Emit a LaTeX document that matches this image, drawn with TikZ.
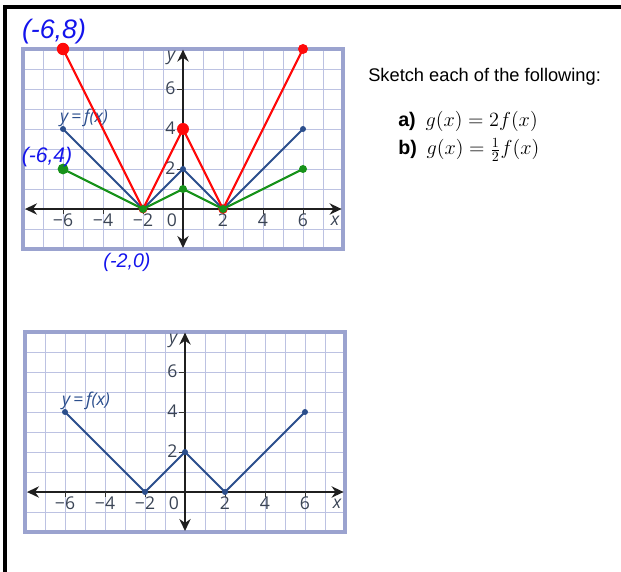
\documentclass[tikz,border=0pt]{standalone}
\usepackage{fontspec}
\setmainfont{Liberation Sans}
\newfontfamily\graphfont{Open Sans}
\usetikzlibrary{arrows.meta, positioning}
\definecolor{cgrid}{HTML}{BCC2E2}
\definecolor{cframe}{HTML}{9BA3CF}
\definecolor{cfx}{HTML}{2B4E8C}
\definecolor{cred}{HTML}{FF0A0A}
\definecolor{cgreen}{HTML}{17921A}
\definecolor{cink}{HTML}{1414EC}
\definecolor{clabel}{HTML}{3A4455}
\tikzset{
  every picture/.style={x=0.5cm, y=0.5cm},
  sheet/.style={draw=black, line width=2.2pt},
  gridline/.style={draw=cgrid, line width=0.6pt},
  frame/.style={draw=cframe, line width=2.2pt},
  axis/.style={{Stealth[length=8.5pt, width=8pt]}-{Stealth[length=8.5pt, width=8pt]}, draw=black!88, line width=2pt},
  tickmark/.style={draw=black!80, line width=0.7pt},
  ticklabel/.style={font=\graphfont\fontsize{12.5}{12.5}\selectfont, text=clabel, inner sep=1pt},
  fline/.style={draw=cfx, line width=1.4pt, line join=round},
  fdot/.style={circle, fill=cfx, inner sep=0pt, minimum size=0.15cm},
  redline/.style={draw=cred, line width=1.5pt, line join=round},
  reddot/.style={circle, fill=cred, inner sep=0pt, minimum size=#1},
  reddot/.default=0.24cm,
  greenline/.style={draw=cgreen, line width=1.5pt, line join=round},
  greendot/.style={circle, fill=cgreen, inner sep=0pt, minimum size=#1},
  greendot/.default=0.2cm,
  ink/.style={text=cink, font=\itshape\fontsize{#1}{#1}\selectfont, inner sep=0pt},
  task/.style={font=\fontsize{13}{15}\selectfont, inner sep=0pt},
  part/.style={font=\fontsize{14}{16}\selectfont, inner sep=0pt},
}

\begin{document}
\begin{tikzpicture}
  \useasboundingbox (-9.15,-18.15) rectangle (21.9,10.45);
  % sheet border
  \draw[sheet] (-8.9,-18.6) -- (-8.9,10.1) -- (22.3,10.1);
  % both graphs: grid, axes, ticks and y = f(x)
  \foreach \gn/\gx/\gy in {top/0/0, bot/0.1/-14.15} {
    \begin{scope}[shift={(\gx,\gy)}]
      \draw[gridline, step=0.5cm] (-8,-2) grid (8,8);
      \draw[frame] (-8,-2) rectangle (8,8);
      \coordinate (\gn-xl) at (-7.9,0);
      \coordinate (\gn-xr) at (7.93,0);
      \coordinate (\gn-yb) at (0,-1.95);
      \coordinate (\gn-yt) at (0,7.97);
      \draw[axis] (\gn-xl) -- (\gn-xr);
      \draw[axis] (\gn-yb) -- (\gn-yt);
      \foreach \v/\t in {-6/−6, -4/−4, -2/−2, 2/2, 4/4, 6/6} {
        \draw[tickmark] (\v,0) -- (\v,-0.25);
        \node[ticklabel, anchor=base] (\gn-x\v) at (\v,-0.9) {\t};
      }
      \node[ticklabel, anchor=base] (\gn-x0) at (-0.55,-0.9) {0};
      \foreach \v in {2,4,6} {
        \draw[tickmark] (0,\v) -- (-0.3,\v);
        \node[ticklabel, anchor=base east] (\gn-y\v) at (-0.3,\v-0.3) {\v};
      }
      \node[ticklabel, anchor=base east] (\gn-ylab) at (-0.3,7.4) {\itshape y};
      \node[ticklabel, anchor=base] (\gn-xlab) at (7.6,-0.85) {\itshape x};
      % y = f(x)
      \coordinate (\gn-f1) at (-6,4);
      \coordinate (\gn-f2) at (-2,0);
      \coordinate (\gn-f3) at (0,2);
      \coordinate (\gn-f4) at (2,0);
      \coordinate (\gn-f5) at (6,4);
      \draw[fline] (\gn-f1) -- (\gn-f2) -- (\gn-f3) -- (\gn-f4) -- (\gn-f5);
      \foreach \i in {1,...,5}
        \node[fdot] (\gn-fd\i) at (\gn-f\i) {};
      \node[ticklabel, text=cfx, anchor=base] (\gn-flab) at (-4.95,4.3) {\itshape y\,=\,f(x)};
    \end{scope}
  }
  % g(x) = 2f(x), red sketch
  \coordinate (r1) at (-6,8);
  \coordinate (r2) at (-2,0);
  \coordinate (r3) at (0,4);
  \coordinate (r4) at (2,0);
  \coordinate (r5) at (6,8);
  \draw[redline] (r1) -- (r2) -- (r3) -- (r4) -- (r5);
  \node[reddot=0.31cm] (rd1) at (r1) {};
  \node[reddot=0.22cm] (rd2) at (r2) {};
  \node[reddot=0.3cm] (rd3) at (r3) {};
  \node[reddot=0.24cm] (rd4) at (r4) {};
  \node[reddot=0.25cm] (rd5) at (r5) {};
  % g(x) = 1/2 f(x), green sketch
  \coordinate (g1) at (-6,2);
  \coordinate (g2) at (-2,0);
  \coordinate (g3) at (0,1);
  \coordinate (g4) at (2,0);
  \coordinate (g5) at (6,2);
  \draw[greenline] (g1) -- (g2) -- (g3) -- (g4) -- (g5);
  \node[greendot=0.27cm] (gd1) at (g1) {};
  \node[greendot] (gd2) at (g2) {};
  \node[greendot] (gd3) at (g3) {};
  \node[greendot] (gd4) at (g4) {};
  \node[greendot] (gd5) at (g5) {};
  % handwritten points
  \node[ink=19] (p68) at (-6.45,8.85) {(-6,8)};
  \node[ink=15] (p64) at (-6.8,2.6) {(-6,4)};
  \node[ink=14] (p20) at (-2.8,-2.65) {(-2,0)};
  % task text
  \node[task, anchor=base west] (tsk) at (9.25,6.35) {Sketch each of the following:};
  \node[part, anchor=base west] (ta) at (10.75,4.1) {\textbf{a)}\enspace $g(x) = 2f(x)$};
  \node[part, anchor=base west] (tb) at (10.75,2.7) {\textbf{b)}\enspace $g(x) = {\textstyle\frac{1}{2}}f(x)$};
\end{tikzpicture}
\end{document}
